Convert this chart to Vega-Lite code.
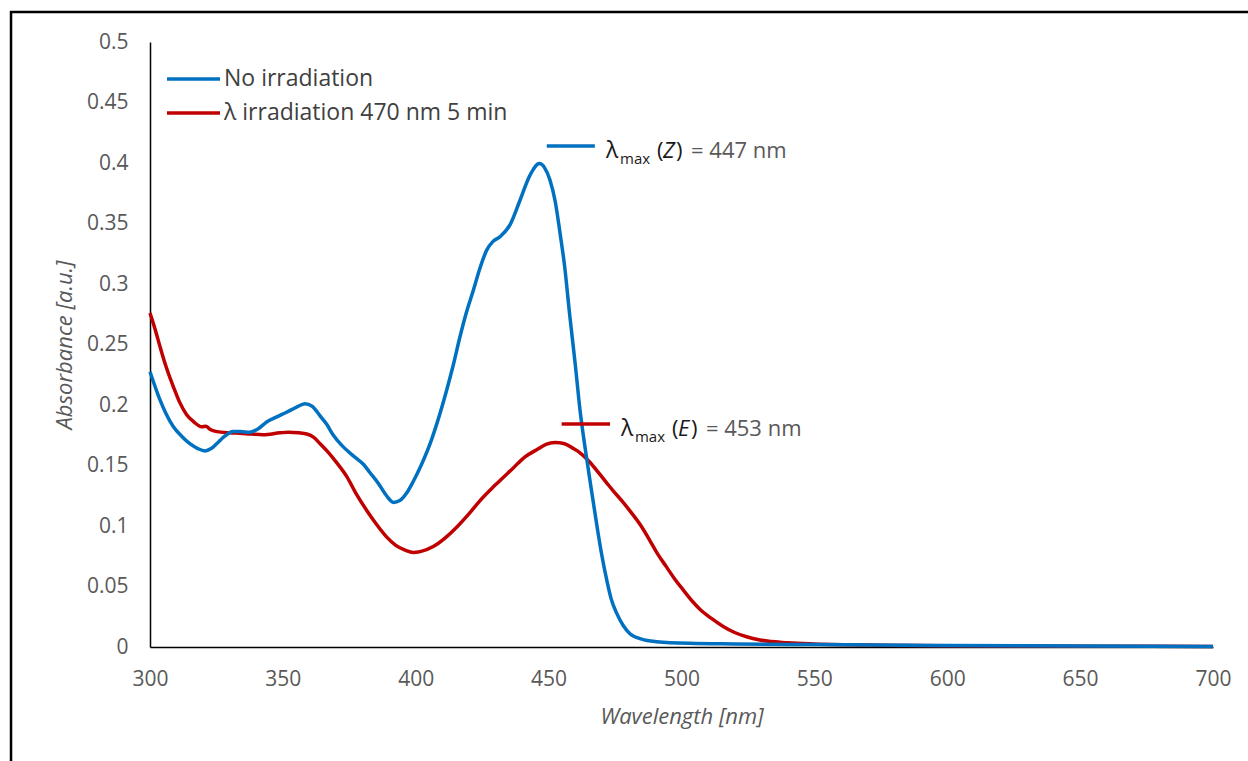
{
  "$schema": "https://vega.github.io/schema/vega-lite/v6.json",
  "width": 1063,
  "height": 605,
  "autosize": {"type": "none"},
  "padding": {"left": 150, "top": 42, "right": 35, "bottom": 114},
  "background": "white",
  "config": {"view": {"stroke": null}, "font": "Open Sans"},
  "datasets": {
    "curves": [
      {"series": "λ irradiation 470 nm 5 min", "wl": 300, "A": 0.276},
      {"series": "λ irradiation 470 nm 5 min", "wl": 302, "A": 0.262},
      {"series": "λ irradiation 470 nm 5 min", "wl": 303.8, "A": 0.248},
      {"series": "λ irradiation 470 nm 5 min", "wl": 306, "A": 0.232},
      {"series": "λ irradiation 470 nm 5 min", "wl": 308.8, "A": 0.215},
      {"series": "λ irradiation 470 nm 5 min", "wl": 311, "A": 0.203},
      {"series": "λ irradiation 470 nm 5 min", "wl": 313.8, "A": 0.192},
      {"series": "λ irradiation 470 nm 5 min", "wl": 316.5, "A": 0.186},
      {"series": "λ irradiation 470 nm 5 min", "wl": 319.5, "A": 0.182},
      {"series": "λ irradiation 470 nm 5 min", "wl": 321, "A": 0.1825},
      {"series": "λ irradiation 470 nm 5 min", "wl": 322.5, "A": 0.180},
      {"series": "λ irradiation 470 nm 5 min", "wl": 325.1, "A": 0.178},
      {"series": "λ irradiation 470 nm 5 min", "wl": 330, "A": 0.177},
      {"series": "λ irradiation 470 nm 5 min", "wl": 333.9, "A": 0.1766},
      {"series": "λ irradiation 470 nm 5 min", "wl": 338, "A": 0.176},
      {"series": "λ irradiation 470 nm 5 min", "wl": 342.6, "A": 0.1755},
      {"series": "λ irradiation 470 nm 5 min", "wl": 348.9, "A": 0.177},
      {"series": "λ irradiation 470 nm 5 min", "wl": 352, "A": 0.1775},
      {"series": "λ irradiation 470 nm 5 min", "wl": 356, "A": 0.177},
      {"series": "λ irradiation 470 nm 5 min", "wl": 359, "A": 0.176},
      {"series": "λ irradiation 470 nm 5 min", "wl": 361.5, "A": 0.1735},
      {"series": "λ irradiation 470 nm 5 min", "wl": 364, "A": 0.168},
      {"series": "λ irradiation 470 nm 5 min", "wl": 367, "A": 0.161},
      {"series": "λ irradiation 470 nm 5 min", "wl": 370, "A": 0.153},
      {"series": "λ irradiation 470 nm 5 min", "wl": 374, "A": 0.141},
      {"series": "λ irradiation 470 nm 5 min", "wl": 377.5, "A": 0.127},
      {"series": "λ irradiation 470 nm 5 min", "wl": 381.5, "A": 0.113},
      {"series": "λ irradiation 470 nm 5 min", "wl": 385, "A": 0.102},
      {"series": "λ irradiation 470 nm 5 min", "wl": 389, "A": 0.091},
      {"series": "λ irradiation 470 nm 5 min", "wl": 392.5, "A": 0.084},
      {"series": "λ irradiation 470 nm 5 min", "wl": 396, "A": 0.080},
      {"series": "λ irradiation 470 nm 5 min", "wl": 399.1, "A": 0.078},
      {"series": "λ irradiation 470 nm 5 min", "wl": 402, "A": 0.079},
      {"series": "λ irradiation 470 nm 5 min", "wl": 406.6, "A": 0.083},
      {"series": "λ irradiation 470 nm 5 min", "wl": 411, "A": 0.090},
      {"series": "λ irradiation 470 nm 5 min", "wl": 415.4, "A": 0.099},
      {"series": "λ irradiation 470 nm 5 min", "wl": 420, "A": 0.110},
      {"series": "λ irradiation 470 nm 5 min", "wl": 424.2, "A": 0.121},
      {"series": "λ irradiation 470 nm 5 min", "wl": 430, "A": 0.134},
      {"series": "λ irradiation 470 nm 5 min", "wl": 436.7, "A": 0.148},
      {"series": "λ irradiation 470 nm 5 min", "wl": 441, "A": 0.157},
      {"series": "λ irradiation 470 nm 5 min", "wl": 445.5, "A": 0.163},
      {"series": "λ irradiation 470 nm 5 min", "wl": 449, "A": 0.1675},
      {"series": "λ irradiation 470 nm 5 min", "wl": 452.4, "A": 0.169},
      {"series": "λ irradiation 470 nm 5 min", "wl": 456, "A": 0.168},
      {"series": "λ irradiation 470 nm 5 min", "wl": 459.3, "A": 0.164},
      {"series": "λ irradiation 470 nm 5 min", "wl": 461.8, "A": 0.1605},
      {"series": "λ irradiation 470 nm 5 min", "wl": 465.6, "A": 0.1525},
      {"series": "λ irradiation 470 nm 5 min", "wl": 469, "A": 0.1435},
      {"series": "λ irradiation 470 nm 5 min", "wl": 471.9, "A": 0.1355},
      {"series": "λ irradiation 470 nm 5 min", "wl": 474.3, "A": 0.129},
      {"series": "λ irradiation 470 nm 5 min", "wl": 477.5, "A": 0.121},
      {"series": "λ irradiation 470 nm 5 min", "wl": 480.6, "A": 0.1125},
      {"series": "λ irradiation 470 nm 5 min", "wl": 484.5, "A": 0.101},
      {"series": "λ irradiation 470 nm 5 min", "wl": 488.1, "A": 0.088},
      {"series": "λ irradiation 470 nm 5 min", "wl": 491, "A": 0.077},
      {"series": "λ irradiation 470 nm 5 min", "wl": 494.4, "A": 0.066},
      {"series": "λ irradiation 470 nm 5 min", "wl": 497.5, "A": 0.056},
      {"series": "λ irradiation 470 nm 5 min", "wl": 500.7, "A": 0.047},
      {"series": "λ irradiation 470 nm 5 min", "wl": 504, "A": 0.038},
      {"series": "λ irradiation 470 nm 5 min", "wl": 507, "A": 0.031},
      {"series": "λ irradiation 470 nm 5 min", "wl": 511, "A": 0.024},
      {"series": "λ irradiation 470 nm 5 min", "wl": 515.7, "A": 0.017},
      {"series": "λ irradiation 470 nm 5 min", "wl": 520, "A": 0.012},
      {"series": "λ irradiation 470 nm 5 min", "wl": 524.5, "A": 0.0085},
      {"series": "λ irradiation 470 nm 5 min", "wl": 529.5, "A": 0.0058},
      {"series": "λ irradiation 470 nm 5 min", "wl": 540, "A": 0.0035},
      {"series": "λ irradiation 470 nm 5 min", "wl": 550, "A": 0.0025},
      {"series": "λ irradiation 470 nm 5 min", "wl": 575, "A": 0.0015},
      {"series": "λ irradiation 470 nm 5 min", "wl": 600, "A": 0.0011},
      {"series": "λ irradiation 470 nm 5 min", "wl": 650, "A": 0.0007},
      {"series": "λ irradiation 470 nm 5 min", "wl": 700, "A": 0.0005},
      {"series": "No irradiation", "wl": 300, "A": 0.2275},
      {"series": "No irradiation", "wl": 303.8, "A": 0.204},
      {"series": "No irradiation", "wl": 306, "A": 0.193},
      {"series": "No irradiation", "wl": 308.8, "A": 0.182},
      {"series": "No irradiation", "wl": 312, "A": 0.174},
      {"series": "No irradiation", "wl": 315, "A": 0.168},
      {"series": "No irradiation", "wl": 318, "A": 0.164},
      {"series": "No irradiation", "wl": 320.7, "A": 0.162},
      {"series": "No irradiation", "wl": 323, "A": 0.164},
      {"series": "No irradiation", "wl": 325.1, "A": 0.168},
      {"series": "No irradiation", "wl": 328, "A": 0.174},
      {"series": "No irradiation", "wl": 331.3, "A": 0.178},
      {"series": "No irradiation", "wl": 334, "A": 0.178},
      {"series": "No irradiation", "wl": 337.6, "A": 0.1775},
      {"series": "No irradiation", "wl": 340.5, "A": 0.180},
      {"series": "No irradiation", "wl": 343.9, "A": 0.186},
      {"series": "No irradiation", "wl": 347.5, "A": 0.190},
      {"series": "No irradiation", "wl": 351.4, "A": 0.194},
      {"series": "No irradiation", "wl": 355, "A": 0.198},
      {"series": "No irradiation", "wl": 358.3, "A": 0.201},
      {"series": "No irradiation", "wl": 361, "A": 0.199},
      {"series": "No irradiation", "wl": 364, "A": 0.191},
      {"series": "No irradiation", "wl": 366.5, "A": 0.184},
      {"series": "No irradiation", "wl": 369, "A": 0.175},
      {"series": "No irradiation", "wl": 372, "A": 0.167},
      {"series": "No irradiation", "wl": 376.5, "A": 0.158},
      {"series": "No irradiation", "wl": 380.3, "A": 0.151},
      {"series": "No irradiation", "wl": 382.8, "A": 0.144},
      {"series": "No irradiation", "wl": 386, "A": 0.135},
      {"series": "No irradiation", "wl": 389, "A": 0.125},
      {"series": "No irradiation", "wl": 391.6, "A": 0.1195},
      {"series": "No irradiation", "wl": 394, "A": 0.121},
      {"series": "No irradiation", "wl": 396.5, "A": 0.127},
      {"series": "No irradiation", "wl": 399.1, "A": 0.137},
      {"series": "No irradiation", "wl": 402, "A": 0.150},
      {"series": "No irradiation", "wl": 405.4, "A": 0.168},
      {"series": "No irradiation", "wl": 408, "A": 0.185},
      {"series": "No irradiation", "wl": 411.6, "A": 0.212},
      {"series": "No irradiation", "wl": 414, "A": 0.232},
      {"series": "No irradiation", "wl": 416.6, "A": 0.256},
      {"series": "No irradiation", "wl": 419, "A": 0.276},
      {"series": "No irradiation", "wl": 421.7, "A": 0.295},
      {"series": "No irradiation", "wl": 424, "A": 0.312},
      {"series": "No irradiation", "wl": 426.7, "A": 0.328},
      {"series": "No irradiation", "wl": 429, "A": 0.335},
      {"series": "No irradiation", "wl": 431.7, "A": 0.339},
      {"series": "No irradiation", "wl": 435.5, "A": 0.349},
      {"series": "No irradiation", "wl": 439.2, "A": 0.369},
      {"series": "No irradiation", "wl": 443, "A": 0.390},
      {"series": "No irradiation", "wl": 446.5, "A": 0.3995},
      {"series": "No irradiation", "wl": 448.5, "A": 0.396},
      {"series": "No irradiation", "wl": 450.5, "A": 0.386},
      {"series": "No irradiation", "wl": 452.5, "A": 0.368},
      {"series": "No irradiation", "wl": 454.3, "A": 0.342},
      {"series": "No irradiation", "wl": 456, "A": 0.315},
      {"series": "No irradiation", "wl": 458, "A": 0.273},
      {"series": "No irradiation", "wl": 460, "A": 0.234},
      {"series": "No irradiation", "wl": 461.8, "A": 0.196},
      {"series": "No irradiation", "wl": 463.5, "A": 0.168},
      {"series": "No irradiation", "wl": 465.6, "A": 0.137},
      {"series": "No irradiation", "wl": 468.4, "A": 0.097},
      {"series": "No irradiation", "wl": 470, "A": 0.076},
      {"series": "No irradiation", "wl": 471.9, "A": 0.055},
      {"series": "No irradiation", "wl": 473.5, "A": 0.040},
      {"series": "No irradiation", "wl": 475.6, "A": 0.028},
      {"series": "No irradiation", "wl": 478, "A": 0.018},
      {"series": "No irradiation", "wl": 480.6, "A": 0.011},
      {"series": "No irradiation", "wl": 485, "A": 0.0065},
      {"series": "No irradiation", "wl": 490.7, "A": 0.0044},
      {"series": "No irradiation", "wl": 503, "A": 0.003},
      {"series": "No irradiation", "wl": 520, "A": 0.0025},
      {"series": "No irradiation", "wl": 550, "A": 0.002},
      {"series": "No irradiation", "wl": 600, "A": 0.0012},
      {"series": "No irradiation", "wl": 650, "A": 0.0008},
      {"series": "No irradiation", "wl": 700, "A": 0.0005}
    ],
    "notes": [
      {"series": "No irradiation", "x1": 449.3, "x2": 467.4, "y": 0.414, "tx": 471.6, "lam": "λ", "sub": "max", "open": "(", "letter": "Z", "close": ")", "rest": "= 447 nm"},
      {"series": "λ irradiation 470 nm 5 min", "x1": 454.9, "x2": 473.1, "y": 0.1843, "tx": 477.2, "lam": "λ", "sub": "max", "open": "(", "letter": "E", "close": ")", "rest": "= 453 nm"}
    ]
  },
  "layer": [
    {
      "data": {"values": [{}]},
      "mark": {"type": "rect", "fill": null, "fillOpacity": 0, "stroke": "#000000", "strokeWidth": 2.5, "clip": false},
      "encoding": {
        "x": {"datum": 247.7, "type": "quantitative"},
        "x2": {"datum": 740},
        "y": {"datum": 0.5248, "type": "quantitative"},
        "y2": {"datum": -0.2}
      }
    },
    {
      "data": {"name": "curves"},
      "transform": [{"filter": "datum.series !== 'No irradiation'"}],
      "mark": {"type": "line", "strokeWidth": 3.5, "interpolate": "monotone"},
      "encoding": {
        "x": {
          "field": "wl",
          "type": "quantitative",
          "scale": {"domain": [300, 700], "nice": false, "zero": false},
          "axis": {
            "values": [300, 350, 400, 450, 500, 550, 600, 650, 700],
            "format": "d",
            "grid": false,
            "ticks": false,
            "labelFlush": false,
            "labelOverlap": false,
            "labelBound": false,
            "domainColor": "#000000",
            "domainWidth": 1.5,
            "labelFont": "Open Sans",
            "labelFontSize": 21,
            "labelColor": "#595959",
            "labelPadding": 21,
            "title": "Wavelength [nm]",
            "titleFont": "Open Sans",
            "titleFontSize": 22,
            "titleFontStyle": "italic",
            "titleFontWeight": "normal",
            "titleColor": "#595959",
            "titlePadding": 17
          }
        },
        "y": {
          "field": "A",
          "type": "quantitative",
          "scale": {"domain": [0, 0.5], "nice": false, "zero": false},
          "axis": {
            "values": [0, 0.05, 0.1, 0.15, 0.2, 0.25, 0.3, 0.35, 0.4, 0.45, 0.5],
            "format": "~g",
            "grid": false,
            "ticks": false,
            "labelFlush": false,
            "labelOverlap": false,
            "labelBound": false,
            "domainColor": "#000000",
            "domainWidth": 1.5,
            "labelFont": "Open Sans",
            "labelFontSize": 21,
            "labelColor": "#595959",
            "labelPadding": 22,
            "title": "Absorbance [a.u.]",
            "titleFont": "Open Sans",
            "titleFontSize": 22,
            "titleFontStyle": "italic",
            "titleFontWeight": "normal",
            "titleColor": "#595959",
            "titlePadding": 10
          }
        },
        "color": {
          "field": "series",
          "type": "nominal",
          "scale": {"domain": ["No irradiation", "λ irradiation 470 nm 5 min"], "range": ["#0070C0", "#C00000"]},
          "legend": {
            "orient": "none",
            "legendX": 15,
            "legendY": 25,
            "title": null,
            "padding": 0,
            "symbolType": "stroke",
            "symbolSize": 2809,
            "symbolStrokeWidth": 3.5,
            "clipHeight": 24,
            "rowPadding": 10,
            "labelFont": "Open Sans",
            "labelFontSize": 23,
            "labelColor": "#404040",
            "labelOffset": 2,
            "labelLimit": 500,
            "symbolOffset": 0
          }
        }
      }
    },
    {
      "data": {"name": "curves"},
      "transform": [{"filter": "datum.series === 'No irradiation'"}],
      "mark": {"type": "line", "strokeWidth": 3.5, "interpolate": "monotone"},
      "encoding": {
        "x": {"field": "wl", "type": "quantitative"},
        "y": {"field": "A", "type": "quantitative"},
        "color": {"field": "series", "type": "nominal"}
      }
    },
    {
      "data": {"name": "notes"},
      "mark": {"type": "rule", "strokeWidth": 3.5},
      "encoding": {
        "x": {"field": "x1", "type": "quantitative"},
        "x2": {"field": "x2"},
        "y": {"field": "y", "type": "quantitative"},
        "color": {"field": "series", "type": "nominal"}
      }
    },
    {
      "data": {"name": "notes"},
      "mark": {"type": "text", "align": "left", "baseline": "alphabetic", "dy": 12, "font": "Open Sans", "fontSize": 23},
      "encoding": {
        "x": {"field": "tx", "type": "quantitative"},
        "y": {"field": "y", "type": "quantitative"},
        "text": {"field": "lam"},
        "color": {"value": "#1a1a1a"}
      }
    },
    {
      "data": {"name": "notes"},
      "mark": {"type": "text", "align": "left", "baseline": "alphabetic", "dx": 14, "dy": 18, "font": "Open Sans", "fontSize": 15},
      "encoding": {
        "x": {"field": "tx", "type": "quantitative"},
        "y": {"field": "y", "type": "quantitative"},
        "text": {"field": "sub"},
        "color": {"value": "#1a1a1a"}
      }
    },
    {
      "data": {"name": "notes"},
      "mark": {"type": "text", "align": "left", "baseline": "alphabetic", "dx": 51, "dy": 12, "font": "Open Sans", "fontSize": 22},
      "encoding": {
        "x": {"field": "tx", "type": "quantitative"},
        "y": {"field": "y", "type": "quantitative"},
        "text": {"field": "open"},
        "color": {"value": "#1a1a1a"}
      }
    },
    {
      "data": {"name": "notes"},
      "mark": {"type": "text", "align": "left", "baseline": "alphabetic", "dx": 57, "dy": 12, "font": "Open Sans", "fontSize": 22, "fontStyle": "italic"},
      "encoding": {
        "x": {"field": "tx", "type": "quantitative"},
        "y": {"field": "y", "type": "quantitative"},
        "text": {"field": "letter"},
        "color": {"value": "#1a1a1a"}
      }
    },
    {
      "data": {"name": "notes"},
      "mark": {"type": "text", "align": "left", "baseline": "alphabetic", "dx": 70, "dy": 12, "font": "Open Sans", "fontSize": 22},
      "encoding": {
        "x": {"field": "tx", "type": "quantitative"},
        "y": {"field": "y", "type": "quantitative"},
        "text": {"field": "close"},
        "color": {"value": "#1a1a1a"}
      }
    },
    {
      "data": {"name": "notes"},
      "mark": {"type": "text", "align": "left", "baseline": "alphabetic", "dx": 85, "dy": 12, "font": "Open Sans", "fontSize": 22},
      "encoding": {
        "x": {"field": "tx", "type": "quantitative"},
        "y": {"field": "y", "type": "quantitative"},
        "text": {"field": "rest"},
        "color": {"value": "#595959"}
      }
    }
  ]
}
